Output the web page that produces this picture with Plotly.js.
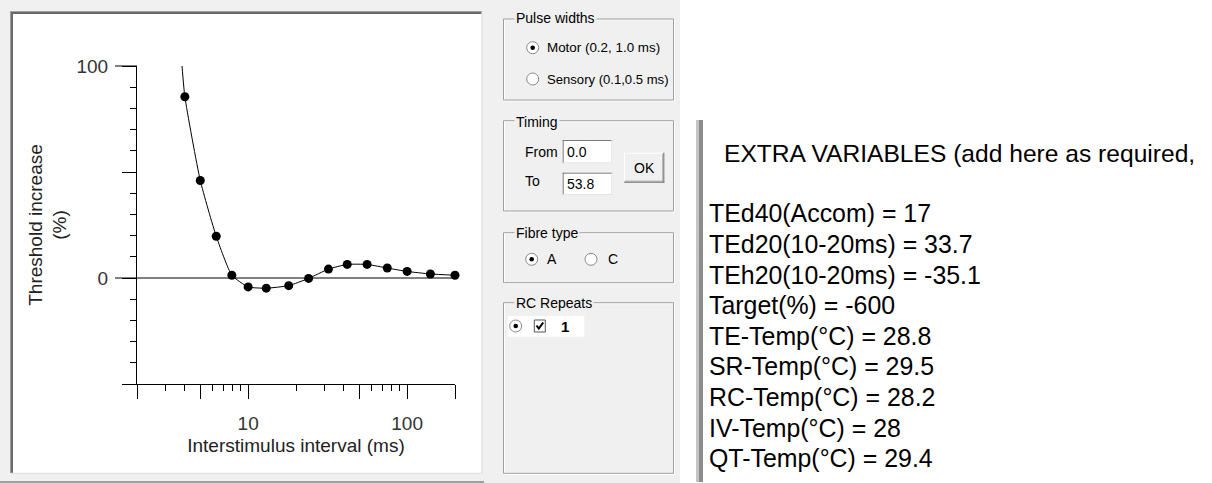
<!DOCTYPE html>
<html><head><meta charset="utf-8">
<script src="https://cdn.plot.ly/plotly-3.0.1.min.js"></script>
<style>html,body{margin:0;padding:0;background:#f0f0f0;overflow:hidden;} #chart{width:1212px;height:483px;}</style>
</head><body><div id="chart"></div>
<script>
// ---------- data ----------
const isi = [4, 5, 6.3, 7.9, 10, 13, 18, 24, 32, 42, 56, 75, 100, 140, 200];
const thresholdIncrease = [85.5, 46.0, 19.7, 1.3, -4.2, -4.8, -3.6, -0.2, 4.2, 6.4, 6.4, 4.7, 3.1, 1.9, 1.3];
const fitLeadIsi = [3.8];
const fitLeadValue = [104];
const xMajorTicks = [2, 5, 10, 50, 100, 200];
const xTickLabels = ['', '', '10', '', '100', ''];
const xMinorTicks = [3, 4, 6, 7, 8, 9, 20, 30, 40, 60, 70, 80, 90];
const yMajorTicks = [-50, 0, 50, 100];
const yTickLabels = ['', '0', '', '100'];
const yMinorTicks = [-40, -30, -20, -10, 10, 20, 30, 40, 60, 70, 80, 90];
const pulseWidthOptions = ['Motor (0.2, 1.0 ms)', 'Sensory (0.1,0.5 ms)'];
const timingFrom = '0.0';
const timingTo = '53.8';
const fibreTypes = ['A', 'C'];
const rcRepeats = ['1'];
const extraTitle = 'EXTRA VARIABLES (add here as required,';
const extraNames = ['TEd40(Accom)', 'TEd20(10-20ms)', 'TEh20(10-20ms)', 'Target(%)', 'TE-Temp(°C)', 'SR-Temp(°C)', 'RC-Temp(°C)', 'IV-Temp(°C)', 'QT-Temp(°C)'];
const extraValues = ['17', '33.7', '-35.1', '-600', '28.8', '29.5', '28.2', '28', '29.4'];

// ---------- layout helpers (pixel -> paper) ----------
const ML = 137, MR = 757, MT = 66, MB = 99;
const PW = 1212 - ML - MR, PH = 483 - MT - MB;
const X = px => (px - ML) / PW;
const Y = py => (483 - MB - py) / PH;
const FONT = 'Liberation Sans, Arial, sans-serif';
const shapes = [];
const annotations = [];
function rect(x0, y0, x1, y1, fill, line, lw, layer) {
  shapes.push({type: 'rect', xref: 'paper', yref: 'paper', x0: X(x0), x1: X(x1), y0: Y(y1), y1: Y(y0),
    fillcolor: fill || 'rgba(0,0,0,0)', line: {color: line || 'rgba(0,0,0,0)', width: lw === undefined ? 1 : lw}, layer: layer || 'below'});
}
function hline(x0, x1, y, color, w) {
  shapes.push({type: 'line', xref: 'paper', yref: 'paper', x0: X(x0), x1: X(x1), y0: Y(y), y1: Y(y), line: {color: color, width: w || 1}, layer: 'below'});
}
function vline(x, y0, y1, color, w) {
  shapes.push({type: 'line', xref: 'paper', yref: 'paper', x0: X(x), x1: X(x), y0: Y(y0), y1: Y(y1), line: {color: color, width: w || 1}, layer: 'below'});
}
function circle(cx, cy, r, fill, line) {
  shapes.push({type: 'circle', xref: 'paper', yref: 'paper', x0: X(cx - r), x1: X(cx + r), y0: Y(cy + r), y1: Y(cy - r),
    fillcolor: fill, line: {color: line || 'rgba(0,0,0,0)', width: line ? 1 : 0}, layer: 'above'});
}
function text(x, y, str, size, opts) {
  annotations.push(Object.assign({xref: 'paper', yref: 'paper', x: X(x), y: Y(y), text: str, showarrow: false,
    xanchor: 'left', yanchor: 'middle', font: {family: FONT, size: size, color: '#000'}}, opts || {}));
}

// ---------- backgrounds ----------
rect(680, -2, 1214, 485, '#ffffff');
rect(11, 12, 482, 473, '#ffffff');
hline(10, 482, 11.5, '#a0a0a0', 1);
hline(11, 482, 13, '#696969', 2);
vline(10.5, 11, 473, '#a0a0a0', 1);
vline(12, 12, 473, '#696969', 2);
vline(482, 12, 474, '#e3e3e3', 1.5);
hline(11, 482, 473.5, '#e3e3e3', 1.5);
hline(0, 484, 482, '#a0a0a0', 2);

// ---------- middle panel (group boxes) ----------
function groupBox(y0, y1, title, ty) {
  rect(504.5, y0 + 1, 674.5, y1 + 1, null, '#ffffff', 1);
  rect(503.5, y0, 673.5, y1, null, '#a0a0a0', 1);
  text(513.5, ty, title, 14, {bgcolor: '#f0f0f0', borderpad: 1});
}
groupBox(19, 100, 'Pulse widths', 18.5);
groupBox(120.7, 211, 'Timing', 121.5);
groupBox(232.7, 282.7, 'Fibre type', 232.5);
groupBox(302.7, 473.3, 'RC Repeats', 302.5);

function radio(cx, cy, selected) {
  circle(cx, cy, 6, '#ffffff', '#8a8a8a');
  if (selected) circle(cx, cy, 2.3, '#000000');
}
radio(532.7, 47.7, true);
text(545, 47.7, pulseWidthOptions[0], 13.4);
radio(532.7, 79, false);
text(545, 79, pulseWidthOptions[1], 13.1);

text(522.5, 151.7, 'From', 14);
text(522.5, 181, 'To', 14);
function inputBox(x0, y0, x1, y1, val) {
  rect(x0, y0, x1, y1, '#ffffff', null, 0);
  hline(x0, x1, y0 + 0.5, '#7a7a7a', 1);
  vline(x0 + 0.5, y0, y1, '#7a7a7a', 1);
  hline(x0, x1, y1 - 0.5, '#e3e3e3', 1);
  vline(x1 - 0.5, y0, y1, '#e3e3e3', 1);
  text(x0 + 2, (y0 + y1) / 2 + 0.5, val, 14);
}
inputBox(562.7, 140, 612.3, 163.3, timingFrom);
inputBox(562.7, 172.7, 612.3, 195, timingTo);
// OK button
rect(624, 152.7, 664.3, 182.7, '#f0f0f0', null, 0);
hline(624, 664.3, 153.2, '#ffffff', 1);
vline(624.5, 152.7, 182.7, '#ffffff', 1);
hline(624, 664.3, 182.2, '#696969', 1);
vline(663.8, 152.7, 182.7, '#696969', 1);
hline(625, 663.3, 181.2, '#a0a0a0', 1);
vline(662.8, 153.7, 181.7, '#a0a0a0', 1);
text(644.2, 167.7, 'OK', 14, {xanchor: 'center'});

radio(531.7, 259.3, true);
text(544.5, 259.3, fibreTypes[0], 14);
radio(591, 259.3, false);
text(605.5, 259.3, fibreTypes[1], 14);

rect(507.7, 316, 584.3, 336.7, '#ffffff', null, 0);
radio(515.7, 326, true);
rect(534.3, 320, 545.3, 332, '#ffffff', '#555555', 1);
shapes.push({type: 'path', xref: 'paper', yref: 'paper', layer: 'above',
  path: `M ${X(536.5)} ${Y(325.5)} L ${X(538.8)} ${Y(328.5)} L ${X(543.2)} ${Y(322.5)}`,
  line: {color: '#000', width: 2}});
text(558.5, 326, '<b>' + rcRepeats[0] + '</b>', 15);

// ---------- right panel ----------
rect(696, 120, 699, 482, '#c4c4c4', null, 0);
rect(699, 120, 703, 482, '#8c8c8c', null, 0);
text(721.5, 153.3, extraTitle, 24.6);
extraNames.forEach((n, i) => {
  text(706.5, 213.3 + i * 30.6, n + ' = ' + extraValues[i], 24.9);
});

// ---------- axis decorations tied to axes ----------
shapes.push({type: 'line', xref: 'paper', yref: 'y', x0: X(115), x1: 1, y0: 0, y1: 0, line: {color: '#000', width: 1}, layer: 'above'});
shapes.push({type: 'line', xref: 'paper', yref: 'paper', x0: X(115), x1: 0, y0: 1, y1: 1, line: {color: '#000', width: 1}, layer: 'above'});

// ---------- traces ----------
const traces = [
  {x: fitLeadIsi.concat(isi), y: fitLeadValue.concat(thresholdIncrease), type: 'scatter', mode: 'lines',
   line: {color: '#000', width: 1, shape: 'spline', smoothing: 0.5}, cliponaxis: true, hoverinfo: 'skip'},
  {x: isi, y: thresholdIncrease, type: 'scatter', mode: 'markers',
   marker: {color: '#000', size: 9, symbol: 'circle'}, cliponaxis: false}
];

const axFont = {family: FONT, size: 19, color: '#333'};
const layout = {
  width: 1212, height: 483,
  margin: {l: ML, r: MR, t: MT, b: MB, pad: 0},
  paper_bgcolor: '#f0f0f0', plot_bgcolor: 'rgba(0,0,0,0)',
  showlegend: false,
  xaxis: {type: 'log', range: [Math.log10(2), Math.log10(200)], showline: true, linecolor: '#000', linewidth: 1,
    ticks: 'outside', ticklen: 14, tickwidth: 1, tickcolor: '#000', tickmode: 'array', tickvals: xMajorTicks, ticktext: xTickLabels,
    minor: {tickmode: 'array', tickvals: xMinorTicks, ticks: 'outside', ticklen: 6, tickwidth: 1, tickcolor: '#000', showgrid: false},
    showgrid: false, zeroline: false, tickfont: axFont, ticklabelstandoff: 8,
    title: {text: 'Interstimulus interval (ms)', font: {family: FONT, size: 19, color: '#222'}, standoff: 5},
    automargin: false, fixedrange: true},
  yaxis: {range: [-50, 100], showline: true, linecolor: '#000', linewidth: 1,
    ticks: 'outside', ticklen: 14, tickwidth: 1, tickcolor: '#000', tickmode: 'array', tickvals: yMajorTicks, ticktext: yTickLabels,
    minor: {tickmode: 'array', tickvals: yMinorTicks, ticks: 'outside', ticklen: 6, tickwidth: 1, tickcolor: '#000', showgrid: false},
    showgrid: false, zeroline: false, tickfont: axFont, ticklabelstandoff: 10,
    title: {text: 'Threshold increase<br>(%)', font: {family: FONT, size: 19, color: '#222'}, standoff: 4},
    automargin: false, fixedrange: true},
  shapes: shapes,
  annotations: annotations
};
Plotly.newPlot('chart', traces, layout, {displayModeBar: false, staticPlot: true});
</script>
</body></html>
